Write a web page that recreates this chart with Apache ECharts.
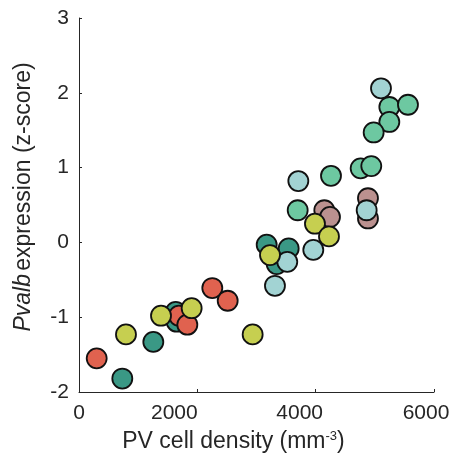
<!DOCTYPE html>
<html><head><meta charset="utf-8">
<script src="https://cdn.jsdelivr.net/npm/echarts@6/dist/echarts.min.js"></script>
<style>html,body{margin:0;padding:0;background:#fff}#c{width:451px;height:457px}</style>
</head><body><div id="c"></div>
<script>
// [PV cell density, Pvalb z-score]
var tealPts = [[3172,-0.03],[3544,-0.08],[3341,-0.29],[1634,-0.93],[1650,-1.06],[1256,-1.33],[732,-1.82]];
var redPts = [[299,-1.55],[1690,-0.98],[1831,-1.10],[2253,-0.61],[2513,-0.78]];
var mauvePts = [[4884,0.59],[4884,0.32],[4146,0.43],[4242,0.34]];
var mintPts = [[3696,0.43],[4259,0.89],[4760,0.99],[4940,1.02],[5245,1.81],[5560,1.84],[5245,1.61],[4980,1.47]];
var lightBluePts = [[3707,0.82],[4862,0.43],[3960,-0.10],[3520,-0.26],[3312,-0.58],[5104,2.06]];
var yellowPts = [[3988,0.25],[4225,0.08],[3228,-0.17],[1904,-0.88],[1386,-0.98],[794,-1.23],[2935,-1.23]];
var xTicks = [0,2000,4000,6000];
var yTicks = [-2,-1,0,1,2,3];

var groups = [
  {data: tealPts, color: '#3a9885'},
  {data: redPts, color: '#e0624f'},
  {data: mauvePts, color: '#bb918f'},
  {data: mintPts, color: '#6dc8a1'},
  {data: lightBluePts, color: '#a2d3d3'},
  {data: yellowPts, color: '#c6cf50'}
];
var font = 'Liberation Sans, Arial, sans-serif';
var ink = '#262626';
var lab = {color: ink, fontSize: 21, fontFamily: font};
var axisCommon = {
  axisLine: {show: true, onZero: false, lineStyle: {color: ink, width: 1}},
  axisTick: {show: true, inside: true, length: 3, lineStyle: {color: ink}},
  splitLine: {show: false}
};
// the reference's x tick labels sit slightly left of their ticks
var xLabelStyle = {0: 'a', 2000: 'b', 4000: 'c', 6000: 'd'};
var chart = echarts.init(document.getElementById('c'));
chart.setOption({
  animation: false,
  grid: {left: 79, right: 17, top: 18, bottom: 65, containLabel: false, outerBoundsMode: 'none'},
  xAxis: Object.assign({}, axisCommon, {
    type: 'value', min: xTicks[0], max: xTicks[xTicks.length-1], interval: 2000,
    axisLabel: Object.assign({}, lab, {margin: 11,
      formatter: function(v){ return '{' + (xLabelStyle[v] || 'a') + '|' + v + '}'; },
      rich: {
        a: Object.assign({}, lab),
        b: Object.assign({}, lab, {padding: [0,46,0,0]}),
        c: Object.assign({}, lab, {padding: [0,32,0,0]}),
        d: Object.assign({}, lab, {padding: [0,16,0,0]})
      }}),
    name: '{n|PV cell density (mm}{s|-3}{e|)}',
    nameLocation: 'middle', nameGap: 38,
    nameTextStyle: {rich: {
      n: {fontSize: 23, fontFamily: font, color: ink},
      s: {fontSize: 13, fontFamily: font, color: ink, verticalAlign: 'top', padding: [0,0,11,0]},
      e: {fontSize: 23, fontFamily: font, color: ink, padding: [0,46,0,0]}
    }}
  }),
  yAxis: Object.assign({}, axisCommon, {
    type: 'value', min: yTicks[0], max: yTicks[yTicks.length-1], interval: 1,
    axisLabel: Object.assign({}, lab, {margin: 10}),
    name: '{i|Pvalb} {n|expression (z-score)}',
    nameLocation: 'middle', nameGap: 44,
    nameTextStyle: {rich: {
      i: {fontSize: 23, fontFamily: font, fontStyle: 'italic', color: ink, padding: [0,0,0,16]},
      n: {fontSize: 23, fontFamily: font, color: ink}
    }}
  }),
  series: groups.map(function(g){
    return {type: 'scatter', data: g.data, symbol: 'circle', symbolSize: 20,
      itemStyle: {color: g.color, borderColor: '#111', borderWidth: 1.8, opacity: 1},
      emphasis: {disabled: true}};
  })
});
</script></body></html>
